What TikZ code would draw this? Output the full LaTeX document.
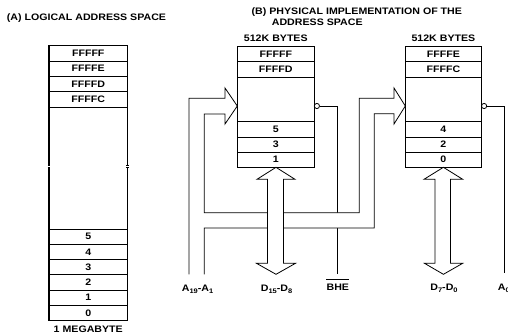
\documentclass[tikz,border=0pt]{standalone}
\usepackage{fontspec}
\newfontfamily\lab[FakeStretch=1.13]{Liberation Sans}
\newcommand\lowsub[1]{\raisebox{-1.8pt}{\fontsize{6.6}{7}\selectfont #1}}
\begin{document}
\begin{tikzpicture}[x=1pt,y=-1pt]
\tikzset{
 txt/.style={font=\lab\bfseries\fontsize{9.4}{10}\selectfont, inner sep=0pt},
 cell/.style={txt, draw, line width=0.8pt, text depth=0pt},
 lcell/.style={cell, minimum width=78.5pt, minimum height=15.3pt},
 mcell/.style={cell, minimum width=77pt, minimum height=15.1pt},
 rcell/.style={cell, minimum width=76.2pt, minimum height=15.1pt},
 boxline/.style={line width=1.2pt},
 wire/.style={line width=0.8pt},
 bubble/.style={circle, draw, fill=white, line width=0.8pt, inner sep=0pt, minimum size=5.2pt},
 hollow/.style={line width=0.8pt, line join=miter}
}
\useasboundingbox (0,0) rectangle (508,333);

% titles
\node[txt, anchor=base west] (titA) at (6.7,20.5) {(A) LOGICAL ADDRESS SPACE};
\node[txt, anchor=base west] (titB1) at (251.5,14) {(B) PHYSICAL IMPLEMENTATION OF THE};
\node[txt, anchor=base west] (titB2) at (271.7,25.5) {ADDRESS SPACE};
\node[txt, anchor=base] (kbm) at (275.8,41.5) {512K BYTES};
\node[txt, anchor=base] (kbr) at (443.4,41.5) {512K BYTES};
\node[txt, anchor=base] (mega) at (88.25,332.3) {1 MEGABYTE};

% control lines (under the bus)
\node[bubble] (bubm) at (316.9,106) {};
\node[bubble] (bubr) at (484.1,106) {};
\coordinate (bheend) at (337.3,274.3);
\coordinate (a0end) at (504,273);
\draw[wire] (bubm.east) -| (bheend);
\draw[wire] (bubr.east) -| (a0end);

% address bus (hollow)
\fill[white] (189,274.3) -- (189,98.3) -- (225,98.3) -- (225,88) -- (237.3,106) -- (225,124) -- (225,114)
 -- (204.3,114) -- (204.3,212.7) -- (359.3,212.7) -- (359.3,98.3) -- (394,98.3) -- (394,88) -- (405.3,106)
 -- (394,124) -- (394,113.7) -- (374.3,113.7) -- (374.3,228) -- (204.3,228) -- (204.3,274.3) -- cycle;
\draw[hollow] (189,274.3) -- (189,98.3) -- (225,98.3) -- (225,88) -- (237.3,106) -- (225,124) -- (225,114)
 -- (204.3,114) -- (204.3,212.7) -- (359.3,212.7) -- (359.3,98.3) -- (394,98.3) -- (394,88) -- (405.3,106)
 -- (394,124) -- (394,113.7) -- (374.3,113.7) -- (374.3,228) -- (204.3,228) -- (204.3,274.3);

% data buses (double-headed hollow arrows)
\draw[hollow, fill=white] (276,167.3) -- (295,179.3) -- (283.5,179.3) -- (283.5,263.3) -- (295.5,263.3)
 -- (276,274.3) -- (256.5,263.3) -- (267.5,263.3) -- (267.5,179.3) -- (257,179.3) -- cycle;
\draw[hollow, fill=white] (443.4,167.3) -- (462.7,179.3) -- (450.5,179.3) -- (450.5,263.3) -- (462.7,263.3)
 -- (443.4,274.3) -- (424.5,263.3) -- (435,263.3) -- (435,179.3) -- (424,179.3) -- cycle;

% left box (logical)
\node[lcell] (l1) at (88.25,53.35) {FFFFF};
\node[lcell] (l2) at (88.25,68.65) {FFFFE};
\node[lcell] (l3) at (88.25,83.95) {FFFFD};
\node[lcell] (l4) at (88.25,99.25) {FFFFC};
\node[lcell] (l5) at (88.25,236.55) {5};
\node[lcell] (l6) at (88.25,251.85) {4};
\node[lcell] (l7) at (88.25,267.15) {3};
\node[lcell] (l8) at (88.25,282.45) {2};
\node[lcell] (l9) at (88.25,297.75) {1};
\node[lcell] (l10) at (88.25,313.05) {0};
\draw[boxline] (49,165.6) -- (49,45.7) -- (127.5,45.7) -- (127.5,165.6);
\draw[boxline] (49,167.6) -- (49,320.7) -- (127.5,320.7) -- (127.5,167.6);
\draw[wire] (47.9,165.6) -- (50.1,165.6) (47.9,167.6) -- (50.1,167.6)
 (126.4,165.6) -- (128.6,165.6) (126.4,167.6) -- (128.6,167.6);

% middle box (odd bank)
\node[mcell] (m1) at (275.8,54.25) {FFFFF};
\node[mcell] (m2) at (275.8,69.35) {FFFFD};
\node[mcell] (m3) at (275.8,129.35) {5};
\node[mcell] (m4) at (275.8,144.45) {3};
\node[mcell] (m5) at (275.8,159.55) {1};
\draw[boxline] (237.3,46.7) rectangle (314.3,167.1);

% right box (even bank)
\node[rcell] (r1) at (443.4,54.25) {FFFFE};
\node[rcell] (r2) at (443.4,69.35) {FFFFC};
\node[rcell] (r3) at (443.4,129.35) {4};
\node[rcell] (r4) at (443.4,144.45) {2};
\node[rcell] (r5) at (443.4,159.55) {0};
\draw[boxline] (405.3,46.7) rectangle (481.5,167.1);

% bottom labels
\node[txt, anchor=base] (labA) at (197.5,291.2) {A\lowsub{19}-A\lowsub{1}};
\node[txt, anchor=base] (labD1) at (276.5,291.2) {D\lowsub{15}-D\lowsub{8}};
\node[txt, anchor=base] (labBHE) at (337.8,290.8) {BHE};
\draw[wire] ([yshift=5pt]labBHE.north west) -- ([yshift=5pt]labBHE.north east);
\node[txt, anchor=base] (labD0) at (444,290.8) {D\lowsub{7}-D\lowsub{0}};
\node[txt, anchor=base west] (labA0) at (497.7,290.8) {A\lowsub{0}};
\end{tikzpicture}
\end{document}
